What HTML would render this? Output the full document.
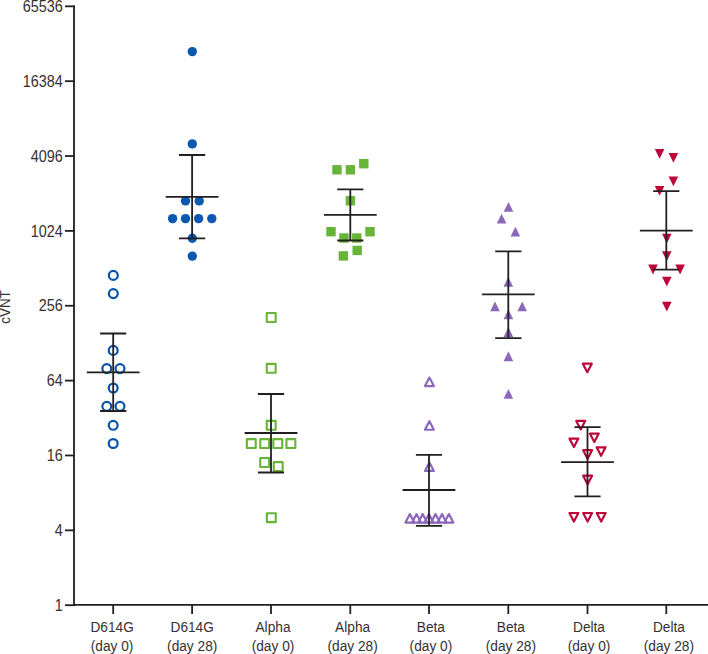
<!DOCTYPE html>
<html><head><meta charset="utf-8"><style>
html,body{margin:0;padding:0;background:#fff;width:708px;height:654px;overflow:hidden}
svg{display:block}
text{font-family:"Liberation Sans",sans-serif;fill:#353132}
.yl{font-size:16px}
.xl{font-size:15.4px}
.ax{font-size:14.6px}
</style></head><body>
<svg width="708" height="654" viewBox="0 0 708 654">
<path d="M74 5.4V605.2" fill="none" stroke="#231f20" stroke-width="1.8"/>
<path d="M73.1 604.95H708" fill="none" stroke="#231f20" stroke-width="1.8"/>
<path d="M65 605.2H74.9" stroke="#231f20" stroke-width="1.8"/>
<text transform="translate(62.7 610.9) scale(0.9 1)" text-anchor="end" class="yl">1</text>
<path d="M65 530.34H74.9" stroke="#231f20" stroke-width="1.8"/>
<text transform="translate(62.7 536.04) scale(0.9 1)" text-anchor="end" class="yl">4</text>
<path d="M65 455.48H74.9" stroke="#231f20" stroke-width="1.8"/>
<text transform="translate(62.7 461.18) scale(0.9 1)" text-anchor="end" class="yl">16</text>
<path d="M65 380.62H74.9" stroke="#231f20" stroke-width="1.8"/>
<text transform="translate(62.7 386.32) scale(0.9 1)" text-anchor="end" class="yl">64</text>
<path d="M65 305.76H74.9" stroke="#231f20" stroke-width="1.8"/>
<text transform="translate(62.7 311.46) scale(0.9 1)" text-anchor="end" class="yl">256</text>
<path d="M65 230.9H74.9" stroke="#231f20" stroke-width="1.8"/>
<text transform="translate(62.7 236.6) scale(0.9 1)" text-anchor="end" class="yl">1024</text>
<path d="M65 156.04H74.9" stroke="#231f20" stroke-width="1.8"/>
<text transform="translate(62.7 161.74) scale(0.9 1)" text-anchor="end" class="yl">4096</text>
<path d="M65 81.18H74.9" stroke="#231f20" stroke-width="1.8"/>
<text transform="translate(62.7 86.88) scale(0.9 1)" text-anchor="end" class="yl">16384</text>
<path d="M65 6.32H74.9" stroke="#231f20" stroke-width="1.8"/>
<text transform="translate(62.7 12.02) scale(0.9 1)" text-anchor="end" class="yl">65536</text>
<path d="M113.2 605V614" stroke="#231f20" stroke-width="1.8"/>
<path d="M192.1 605V614" stroke="#231f20" stroke-width="1.8"/>
<path d="M271 605V614" stroke="#231f20" stroke-width="1.8"/>
<path d="M350.3 605V614" stroke="#231f20" stroke-width="1.8"/>
<path d="M429 605V614" stroke="#231f20" stroke-width="1.8"/>
<path d="M508.3 605V614" stroke="#231f20" stroke-width="1.8"/>
<path d="M587.5 605V614" stroke="#231f20" stroke-width="1.8"/>
<path d="M666.3 605V614" stroke="#231f20" stroke-width="1.8"/>
<text transform="translate(112.1 632) scale(0.89 1)" text-anchor="middle" class="xl">D614G</text>
<text transform="translate(112.1 650.5) scale(0.89 1)" text-anchor="middle" class="xl">(day 0)</text>
<text transform="translate(192.2 632) scale(0.89 1)" text-anchor="middle" class="xl">D614G</text>
<text transform="translate(192.2 650.5) scale(0.89 1)" text-anchor="middle" class="xl">(day 28)</text>
<text transform="translate(273 632) scale(0.89 1)" text-anchor="middle" class="xl">Alpha</text>
<text transform="translate(273 650.5) scale(0.89 1)" text-anchor="middle" class="xl">(day 0)</text>
<text transform="translate(352.6 632) scale(0.89 1)" text-anchor="middle" class="xl">Alpha</text>
<text transform="translate(352.6 650.5) scale(0.89 1)" text-anchor="middle" class="xl">(day 28)</text>
<text transform="translate(430.9 632) scale(0.89 1)" text-anchor="middle" class="xl">Beta</text>
<text transform="translate(430.9 650.5) scale(0.89 1)" text-anchor="middle" class="xl">(day 0)</text>
<text transform="translate(510.9 632) scale(0.89 1)" text-anchor="middle" class="xl">Beta</text>
<text transform="translate(510.9 650.5) scale(0.89 1)" text-anchor="middle" class="xl">(day 28)</text>
<text transform="translate(589 632) scale(0.89 1)" text-anchor="middle" class="xl">Delta</text>
<text transform="translate(589 650.5) scale(0.89 1)" text-anchor="middle" class="xl">(day 0)</text>
<text transform="translate(668.9 632) scale(0.89 1)" text-anchor="middle" class="xl">Delta</text>
<text transform="translate(668.9 650.5) scale(0.89 1)" text-anchor="middle" class="xl">(day 28)</text>
<text transform="translate(10.2 307) rotate(-90) scale(0.92 1)" text-anchor="middle" class="ax">cVNT</text>
<circle cx="113.3" cy="275.4" r="4.45" fill="none" stroke="#0753a7" stroke-width="2.2"/>
<circle cx="113.3" cy="293.6" r="4.45" fill="none" stroke="#0753a7" stroke-width="2.2"/>
<circle cx="113.2" cy="350.4" r="4.45" fill="none" stroke="#0753a7" stroke-width="2.2"/>
<circle cx="106.8" cy="368.6" r="4.45" fill="none" stroke="#0753a7" stroke-width="2.2"/>
<circle cx="120" cy="368.6" r="4.45" fill="none" stroke="#0753a7" stroke-width="2.2"/>
<circle cx="113.2" cy="388" r="4.45" fill="none" stroke="#0753a7" stroke-width="2.2"/>
<circle cx="106.8" cy="406.3" r="4.45" fill="none" stroke="#0753a7" stroke-width="2.2"/>
<circle cx="120" cy="406.3" r="4.45" fill="none" stroke="#0753a7" stroke-width="2.2"/>
<circle cx="113.2" cy="425.3" r="4.45" fill="none" stroke="#0753a7" stroke-width="2.2"/>
<circle cx="113.2" cy="443.5" r="4.45" fill="none" stroke="#0753a7" stroke-width="2.2"/>
<circle cx="192.3" cy="51.6" r="4.7" fill="#0a58b0"/>
<circle cx="192.3" cy="143.9" r="4.7" fill="#0a58b0"/>
<circle cx="185.5" cy="200.9" r="4.7" fill="#0a58b0"/>
<circle cx="199.2" cy="200.9" r="4.7" fill="#0a58b0"/>
<circle cx="172.6" cy="218.6" r="4.7" fill="#0a58b0"/>
<circle cx="185.5" cy="218.6" r="4.7" fill="#0a58b0"/>
<circle cx="198.6" cy="218.6" r="4.7" fill="#0a58b0"/>
<circle cx="211.8" cy="218.6" r="4.7" fill="#0a58b0"/>
<circle cx="192.3" cy="238.2" r="4.7" fill="#0a58b0"/>
<circle cx="192.3" cy="256.1" r="4.7" fill="#0a58b0"/>
<rect x="266.75" y="313.05" width="8.9" height="8.9" fill="none" stroke="#66b438" stroke-width="2.1" stroke-linejoin="round"/>
<rect x="266.75" y="363.85" width="8.9" height="8.9" fill="none" stroke="#66b438" stroke-width="2.1" stroke-linejoin="round"/>
<rect x="266.75" y="420.85" width="8.9" height="8.9" fill="none" stroke="#66b438" stroke-width="2.1" stroke-linejoin="round"/>
<rect x="246.85" y="439.15" width="8.9" height="8.9" fill="none" stroke="#66b438" stroke-width="2.1" stroke-linejoin="round"/>
<rect x="260.25" y="439.15" width="8.9" height="8.9" fill="none" stroke="#66b438" stroke-width="2.1" stroke-linejoin="round"/>
<rect x="273.35" y="439.15" width="8.9" height="8.9" fill="none" stroke="#66b438" stroke-width="2.1" stroke-linejoin="round"/>
<rect x="286.45" y="439.15" width="8.9" height="8.9" fill="none" stroke="#66b438" stroke-width="2.1" stroke-linejoin="round"/>
<rect x="260.25" y="458.05" width="8.9" height="8.9" fill="none" stroke="#66b438" stroke-width="2.1" stroke-linejoin="round"/>
<rect x="273.75" y="462.15" width="8.9" height="8.9" fill="none" stroke="#66b438" stroke-width="2.1" stroke-linejoin="round"/>
<rect x="266.85" y="513.25" width="8.9" height="8.9" fill="none" stroke="#66b438" stroke-width="2.1" stroke-linejoin="round"/>
<rect x="359.1" y="159" width="9.4" height="9.4" fill="#66b438"/>
<rect x="332.3" y="165.1" width="9.4" height="9.4" fill="#66b438"/>
<rect x="345.7" y="165.1" width="9.4" height="9.4" fill="#66b438"/>
<rect x="345.7" y="196.1" width="9.4" height="9.4" fill="#66b438"/>
<rect x="326.3" y="227" width="9.4" height="9.4" fill="#66b438"/>
<rect x="365.3" y="227" width="9.4" height="9.4" fill="#66b438"/>
<rect x="339.3" y="233.3" width="9.4" height="9.4" fill="#66b438"/>
<rect x="352.1" y="233.3" width="9.4" height="9.4" fill="#66b438"/>
<rect x="352.5" y="245.7" width="9.4" height="9.4" fill="#66b438"/>
<rect x="338.7" y="251.2" width="9.4" height="9.4" fill="#66b438"/>
<path d="M429.4 377.55L433.85 386.05L424.95 386.05Z" fill="none" stroke="#8c68bb" stroke-width="2.2" stroke-linejoin="round"/>
<path d="M429.4 421.25L433.85 429.75L424.95 429.75Z" fill="none" stroke="#8c68bb" stroke-width="2.2" stroke-linejoin="round"/>
<path d="M429.4 462.45L433.85 470.95L424.95 470.95Z" fill="none" stroke="#8c68bb" stroke-width="2.2" stroke-linejoin="round"/>
<path d="M409.9 514.05L414.35 522.55L405.45 522.55Z" fill="none" stroke="#8c68bb" stroke-width="2.2" stroke-linejoin="round"/>
<path d="M416.5 514.05L420.95 522.55L412.05 522.55Z" fill="none" stroke="#8c68bb" stroke-width="2.2" stroke-linejoin="round"/>
<path d="M422.7 514.05L427.15 522.55L418.25 522.55Z" fill="none" stroke="#8c68bb" stroke-width="2.2" stroke-linejoin="round"/>
<path d="M428.9 514.05L433.35 522.55L424.45 522.55Z" fill="none" stroke="#8c68bb" stroke-width="2.2" stroke-linejoin="round"/>
<path d="M435.5 514.05L439.95 522.55L431.05 522.55Z" fill="none" stroke="#8c68bb" stroke-width="2.2" stroke-linejoin="round"/>
<path d="M442 514.05L446.45 522.55L437.55 522.55Z" fill="none" stroke="#8c68bb" stroke-width="2.2" stroke-linejoin="round"/>
<path d="M448.9 514.05L453.35 522.55L444.45 522.55Z" fill="none" stroke="#8c68bb" stroke-width="2.2" stroke-linejoin="round"/>
<path d="M508.5 201.95L513.3 211.85L503.7 211.85Z" fill="#8c68bb"/>
<path d="M501.6 213.65L506.4 223.55L496.8 223.55Z" fill="#8c68bb"/>
<path d="M515.4 226.65L520.2 236.55L510.6 236.55Z" fill="#8c68bb"/>
<path d="M508.3 276.75L513.1 286.65L503.5 286.65Z" fill="#8c68bb"/>
<path d="M495 301.45L499.8 311.35L490.2 311.35Z" fill="#8c68bb"/>
<path d="M522.2 301.45L527 311.35L517.4 311.35Z" fill="#8c68bb"/>
<path d="M508.4 309.25L513.2 319.15L503.6 319.15Z" fill="#8c68bb"/>
<path d="M508.4 327.05L513.2 336.95L503.6 336.95Z" fill="#8c68bb"/>
<path d="M508.4 351.35L513.2 361.25L503.6 361.25Z" fill="#8c68bb"/>
<path d="M508.4 388.95L513.2 398.85L503.6 398.85Z" fill="#8c68bb"/>
<path d="M582.85 363.7L591.75 363.7L587.3 372.2Z" fill="none" stroke="#bd0539" stroke-width="2.2" stroke-linejoin="round"/>
<path d="M576.25 420.9L585.15 420.9L580.7 429.4Z" fill="none" stroke="#bd0539" stroke-width="2.2" stroke-linejoin="round"/>
<path d="M589.85 433.6L598.75 433.6L594.3 442.1Z" fill="none" stroke="#bd0539" stroke-width="2.2" stroke-linejoin="round"/>
<path d="M569.45 438.6L578.35 438.6L573.9 447.1Z" fill="none" stroke="#bd0539" stroke-width="2.2" stroke-linejoin="round"/>
<path d="M596.65 447.3L605.55 447.3L601.1 455.8Z" fill="none" stroke="#bd0539" stroke-width="2.2" stroke-linejoin="round"/>
<path d="M583.15 450.2L592.05 450.2L587.6 458.7Z" fill="none" stroke="#bd0539" stroke-width="2.2" stroke-linejoin="round"/>
<path d="M583.15 475.7L592.05 475.7L587.6 484.2Z" fill="none" stroke="#bd0539" stroke-width="2.2" stroke-linejoin="round"/>
<path d="M569.45 513L578.35 513L573.9 521.5Z" fill="none" stroke="#bd0539" stroke-width="2.2" stroke-linejoin="round"/>
<path d="M583.15 513L592.05 513L587.6 521.5Z" fill="none" stroke="#bd0539" stroke-width="2.2" stroke-linejoin="round"/>
<path d="M596.75 513L605.65 513L601.2 521.5Z" fill="none" stroke="#bd0539" stroke-width="2.2" stroke-linejoin="round"/>
<path d="M654.8 149L664.4 149L659.6 158.8Z" fill="#bd0539"/>
<path d="M668.6 153L678.2 153L673.4 162.8Z" fill="#bd0539"/>
<path d="M668.6 176.5L678.2 176.5L673.4 186.3Z" fill="#bd0539"/>
<path d="M654.8 186L664.4 186L659.6 195.8Z" fill="#bd0539"/>
<path d="M662 233.7L671.6 233.7L666.8 243.5Z" fill="#bd0539"/>
<path d="M662 251.3L671.6 251.3L666.8 261.1Z" fill="#bd0539"/>
<path d="M648.2 264.6L657.8 264.6L653 274.4Z" fill="#bd0539"/>
<path d="M675.3 264.6L684.9 264.6L680.1 274.4Z" fill="#bd0539"/>
<path d="M662 276.8L671.6 276.8L666.8 286.6Z" fill="#bd0539"/>
<path d="M662 301.7L671.6 301.7L666.8 311.5Z" fill="#bd0539"/>
<path d="M113.2 333.5V411M100.1 333.5H126.3M100.1 411H126.3M86.8 372.3H139.6" fill="none" stroke="#231f20" stroke-width="1.8"/>
<path d="M192.1 155V238.4M179 155H205.2M179 238.4H205.2M165.7 196.85H218.5" fill="none" stroke="#231f20" stroke-width="1.8"/>
<path d="M271 394V472.5M257.9 394H284.1M257.9 472.5H284.1M244.6 433H297.4" fill="none" stroke="#231f20" stroke-width="1.8"/>
<path d="M350.3 189.4V240.5M337.2 189.4H363.4M337.2 240.5H363.4M323.9 214.9H376.7" fill="none" stroke="#231f20" stroke-width="1.8"/>
<path d="M429 454.9V525.8M415.9 454.9H442.1M415.9 525.8H442.1M402.6 490H455.4" fill="none" stroke="#231f20" stroke-width="1.8"/>
<path d="M508.3 251.3V338.2M495.2 251.3H521.4M495.2 338.2H521.4M481.9 294.3H534.7" fill="none" stroke="#231f20" stroke-width="1.8"/>
<path d="M587.5 427.1V496.4M574.4 427.1H600.6M574.4 496.4H600.6M561.1 462.2H613.9" fill="none" stroke="#231f20" stroke-width="1.8"/>
<path d="M666.3 191.2V269.7M653.2 191.2H679.4M653.2 269.7H679.4M639.9 230.6H692.7" fill="none" stroke="#231f20" stroke-width="1.8"/>
</svg>
</body></html>
